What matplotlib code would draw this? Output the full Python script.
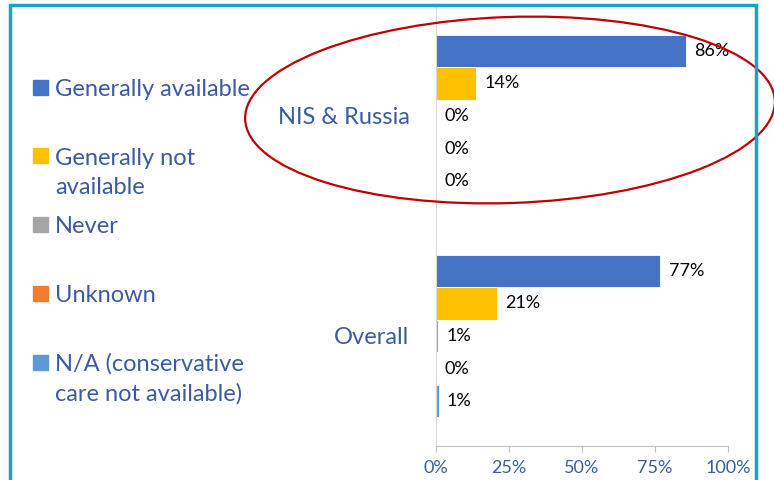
import matplotlib
matplotlib.use("Agg")
import matplotlib.pyplot as plt
from matplotlib.patches import Ellipse, Rectangle
from matplotlib.transforms import IdentityTransform

plt.rcParams["font.family"] = ["Lato", "DejaVu Sans"]

# data
groups = ["Overall", "NIS & Russia"]
series = ["Generally available", "Generally not\navailable", "Never", "Unknown",
          "N/A (conservative\ncare not available)"]
colors = ["#4472C4", "#FFC000", "#A5A5A5", "#ED7D31", "#5B9BD5"]
overall = [76.8, 20.8, 0.8, 0.0, 0.9]
nis_russia = [85.6, 13.8, 0.0, 0.0, 0.0]
values = [overall, nis_russia]
xticks = [0, 25, 50, 75, 100]
xticklabels = ["0%", "25%", "50%", "75%", "100%"]

TXT = "#3A5BA3"
W, H = 774, 480
fig = plt.figure(figsize=(W / 100, H / 100), dpi=100)
ax = fig.add_axes([436 / W, 34 / H, 292 / W, 440 / H])

h = 0.148
for g, vals in enumerate(values):
    for i, (v, c) in enumerate(zip(vals, colors)):
        y = g + (2 - i) * h
        ax.barh(y, v, height=h, color=c, edgecolor="white", linewidth=0.6)
        ax.annotate(f"{round(v)}%", (v, y), textcoords="offset points", xytext=(6, 0),
                    va="center", ha="left", fontsize=13, color="black")

ax.set_xlim(0, 100)
ax.set_ylim(-0.5, 1.5)
ax.set_xticks(xticks)
ax.set_xticklabels(xticklabels, color=TXT, fontsize=13)
ax.set_yticks([0, 1])
ax.set_yticklabels(groups, color=TXT, fontsize=17)
ax.tick_params(axis="y", length=0, pad=19)
ax.tick_params(axis="x", length=4, color="#BFBFBF", pad=6)
for s in ["top", "right"]:
    ax.spines[s].set_visible(False)
ax.spines["left"].set_color("#D9D9D9")
ax.spines["bottom"].set_color("#BFBFBF")

# legend drawn by hand to keep the first-line alignment of the squares
for i, (lab, c) in enumerate(zip(series, colors)):
    yc = H - (87 + i * 68.75)
    fig.patches.append(Rectangle((33 / W, (yc - 7.5) / H), 15 / W, 15 / H, color=c,
                                 transform=fig.transFigure, figure=fig))
    extra = lab.count("\n") * 30
    fig.text(55 / W, (yc - 8.5 - extra) / H, lab, ha="left", va="baseline", fontsize=17,
             color=TXT, linespacing=1.5)

# red highlight ellipse
fig.patches.append(Ellipse((510, H - 110), 530, 186, angle=2, fill=False, edgecolor="#C00000",
                           linewidth=1.6, transform=IdentityTransform(), figure=fig))

# teal frame
fig.patches.append(Rectangle((10 / W, -0.1), 746 / W, 1.1 - 5 / H, fill=False,
                             edgecolor="#17A2C6", linewidth=2.5,
                             transform=fig.transFigure, figure=fig))

fig.savefig("out.png", dpi=100)
